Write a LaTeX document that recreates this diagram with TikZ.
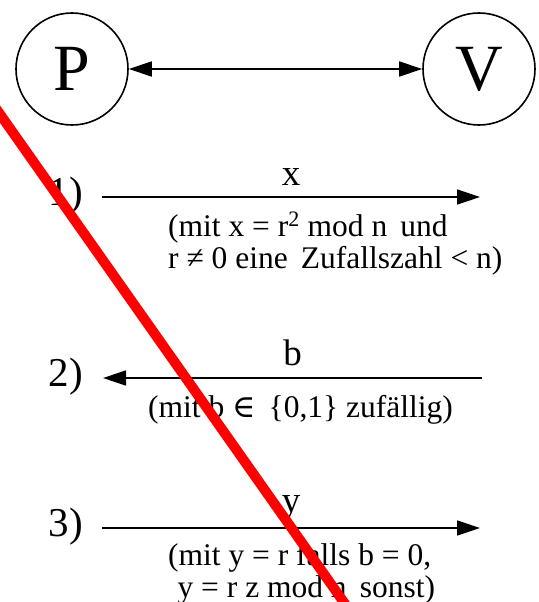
\documentclass[tikz,border=0pt]{standalone}
\usepackage{fontspec}
\setmainfont{Liberation Serif}
\newfontfamily\symbfont{DejaVu Serif}
\usetikzlibrary{arrows.meta}

\begin{document}
\begin{tikzpicture}[
    x=1pt, y=-1pt,
    % Kreise fuer Beweiser und Verifizierer
    partei/.style={circle, draw, line width=1.6pt, minimum size=112pt, inner sep=0pt,
        font=\fontsize{66}{66}\selectfont},
    % Nachrichtenpfeile
    nachricht/.style={line width=1.6pt, -{Triangle[length=23pt, width=15pt]}},
    % Schrittnummern und Beschriftungen
    schritt/.style={anchor=base east, inner sep=0pt, font=\fontsize{41}{41}\selectfont},
    wert/.style={anchor=base, inner sep=0pt, font=\fontsize{37}{37}\selectfont},
    erklaerung/.style={anchor=base west, align=left, inner sep=0pt,
        font=\fontsize{31.5}{32}\selectfont}
]
    \clip (0,0) rectangle (538,602);

    % Beweiser P und Verifizierer V
    \node[partei] (P) at (72,69) {P};
    \node[partei] (V) at (479,69) {V};
    \draw[line width=1.6pt, {Triangle[length=23pt, width=15pt]}-{Triangle[length=23pt, width=15pt]}] (P) -- (V);

    % Endpunkte der Nachrichten
    \coordinate (A1) at (102,197);
    \coordinate (B1) at (480,197);
    \coordinate (A2) at (103,378);
    \coordinate (B2) at (482,378);
    \coordinate (A3) at (102,528);
    \coordinate (B3) at (480,528);

    % 1) P schickt x
    \node[schritt] (n1) at (83,205) {1)};
    \draw[nachricht] (A1) -- (B1) node[wert, midway, yshift=12pt] (x) {x};
    % (Basis = letzte Zeile)
    \node[erklaerung] (e1) at (168,268) {(mit x = r\textsuperscript{2} mod n\, und\\r ≠ 0 eine\, Zufallszahl < n)};

    % 2) V schickt b
    \node[schritt] (n2) at (83,386) {2)};
    \draw[nachricht] (B2) -- (A2) node[wert, midway, yshift=13pt] (b) {b};
    \node[erklaerung] (e2) at (148,417) {(mit b {\symbfont ∈}\, \{0,1\} zuf\"allig)};

    % 3) P schickt y
    \node[schritt] (n3) at (83,536) {3)};
    \draw[nachricht] (A3) -- (B3) node[wert, midway, yshift=16pt] (y) {y};
    \node[erklaerung] (e3) at (168,597) {(mit y = r falls b = 0,\\\hspace{0.3em}y = r z mod n\, sonst)};

    % roter Strich quer ueber das Bild
    \draw[red, line width=10pt] (-10,100) -- (350,611);
\end{tikzpicture}
\end{document}
